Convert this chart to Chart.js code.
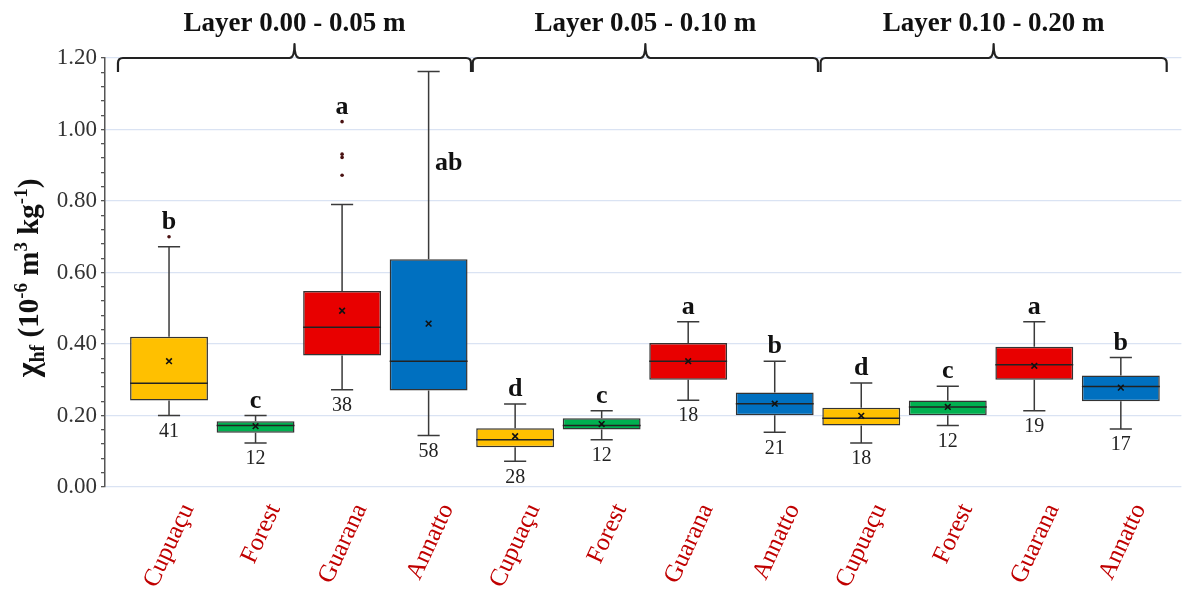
<!DOCTYPE html>
<html>
<head>
<meta charset="utf-8">
<title>Magnetic susceptibility by land use and soil layer</title>
<script src="https://cdn.jsdelivr.net/npm/chart.js@4.4.1/dist/chart.umd.min.js"></script>
<style>
  html, body { margin: 0; padding: 0; background: #fff; overflow: hidden; }
  canvas { display: block; }
</style>
</head>
<body>
<canvas id="boxChart" width="1187" height="590"></canvas>
<script>
// data (three layers x four land uses)
var categories = ["Cupuaçu", "Forest", "Guarana", "Annatto",
                  "Cupuaçu", "Forest", "Guarana", "Annatto",
                  "Cupuaçu", "Forest", "Guarana", "Annatto"];
var layers = ["Layer 0.00 - 0.05 m", "Layer 0.05 - 0.10 m", "Layer 0.10 - 0.20 m"];
var whiskerLow  = [0.200, 0.123, 0.272, 0.144, 0.072, 0.132, 0.243, 0.153, 0.123, 0.172, 0.213, 0.162];
var q1          = [0.242, 0.152, 0.368, 0.270, 0.111, 0.161, 0.300, 0.201, 0.172, 0.201, 0.300, 0.240];
var median      = [0.290, 0.172, 0.447, 0.352, 0.132, 0.172, 0.352, 0.233, 0.192, 0.224, 0.342, 0.281];
var q3          = [0.420, 0.184, 0.548, 0.637, 0.164, 0.192, 0.403, 0.264, 0.222, 0.242, 0.392, 0.312];
var whiskerHigh = [0.672, 0.200, 0.790, 1.162, 0.232, 0.213, 0.462, 0.352, 0.291, 0.282, 0.462, 0.362];
var means       = [0.352, 0.170, 0.493, 0.457, 0.142, 0.176, 0.352, 0.233, 0.199, 0.224, 0.339, 0.278];
var outliers    = [[0.70], [], [1.022, 0.931, 0.922, 0.872], [], [], [], [], [], [], [], [], []];
var counts  = [41, 12, 38, 58, 28, 12, 18, 21, 18, 12, 19, 17];
var letters = ["b", "c", "a", "ab", "d", "c", "a", "b", "d", "c", "a", "b"];
var yTicks  = [0, 0.2, 0.4, 0.6, 0.8, 1.0, 1.2];

var colorOf = { "Cupuaçu": "#FFC000", "Forest": "#00B050", "Guarana": "#E80000", "Annatto": "#0070C0" };
var serif = "'Liberation Serif', 'Times New Roman', serif";

var boxes = categories.map(function (c, i) { return { x: i, y: [q1[i], q3[i]] }; });
var meanPts = means.map(function (m, i) { return { x: i, y: m }; });
var outPts = [];
outliers.forEach(function (list, i) {
  list.forEach(function (v) { outPts.push({ x: i, y: v }); });
});

function isMajor(v) {
  return Math.round(v * 100) % 20 === 0;
}

// whiskers, medians, letters, counts, braces and the axis title
var boxParts = {
  id: "boxParts",
  beforeDatasetsDraw: function (chart) {
    var x = chart.scales.x, y = chart.scales.y, ctx = chart.ctx;
    var cap = (x.getPixelForValue(1) - x.getPixelForValue(0)) * 0.128;
    ctx.save();
    ctx.strokeStyle = "#3a3a3a";
    ctx.lineWidth = 1.5;
    for (var i = 0; i < categories.length; i++) {
      var cx = x.getPixelForValue(i);
      var lo = y.getPixelForValue(whiskerLow[i]), hi = y.getPixelForValue(whiskerHigh[i]);
      ctx.beginPath();
      ctx.moveTo(cx, lo); ctx.lineTo(cx, y.getPixelForValue(q1[i]));
      ctx.moveTo(cx, y.getPixelForValue(q3[i])); ctx.lineTo(cx, hi);
      ctx.moveTo(cx - cap, lo); ctx.lineTo(cx + cap, lo);
      ctx.moveTo(cx - cap, hi); ctx.lineTo(cx + cap, hi);
      ctx.stroke();
    }
    ctx.restore();
  },
  afterDatasetDraw: function (chart, args) {
    if (args.meta.type !== "bar") return;
    var y = chart.scales.y, ctx = chart.ctx;
    ctx.save();
    ctx.strokeStyle = "#222";
    ctx.lineWidth = 1.5;
    args.meta.data.forEach(function (bar, i) {
      var p = bar.getProps(["x", "width"], true);
      var my = y.getPixelForValue(median[i]);
      ctx.beginPath();
      ctx.moveTo(p.x - p.width / 2, my);
      ctx.lineTo(p.x + p.width / 2, my);
      ctx.stroke();
    });
    ctx.restore();
  },
  afterDraw: function (chart) {
    var x = chart.scales.x, y = chart.scales.y, ctx = chart.ctx;
    ctx.save();

    // significance letters
    ctx.fillStyle = "#111";
    ctx.font = "bold 26px " + serif;
    ctx.textAlign = "center";
    for (var i = 0; i < categories.length; i++) {
      var cx = x.getPixelForValue(i);
      if (whiskerHigh[i] > 1.1) {
        // long whisker: letter sits beside it
        ctx.textBaseline = "middle";
        ctx.fillText(letters[i], cx + 20, y.getPixelForValue(0.905));
      } else {
        var top = Math.max.apply(null, [whiskerHigh[i]].concat(outliers[i]));
        ctx.textBaseline = "alphabetic";
        ctx.fillText(letters[i], cx, y.getPixelForValue(top) - 8);
      }
    }

    // sample counts
    ctx.font = "20px " + serif;
    ctx.fillStyle = "#222";
    ctx.textBaseline = "middle";
    for (var j = 0; j < categories.length; j++) {
      ctx.fillText(String(counts[j]), x.getPixelForValue(j), y.getPixelForValue(whiskerLow[j]) + 16);
    }

    // layer braces
    var spans = [[-0.59, 3.49], [3.51, 7.5], [7.53, 11.53]];
    var yl = y.getPixelForValue(1.2);
    ctx.strokeStyle = "#222";
    ctx.lineWidth = 2.2;
    ctx.lineJoin = "round";
    spans.forEach(function (s, k) {
      var x0 = x.getPixelForValue(s[0]), x1 = x.getPixelForValue(s[1]);
      var xm = (x0 + x1) / 2;
      ctx.beginPath();
      ctx.moveTo(x0, yl + 14);
      ctx.lineTo(x0, yl + 5);
      ctx.quadraticCurveTo(x0, yl, x0 + 5, yl);
      ctx.lineTo(xm - 5, yl);
      ctx.quadraticCurveTo(xm, yl, xm, yl - 14);
      ctx.quadraticCurveTo(xm, yl, xm + 5, yl);
      ctx.lineTo(x1 - 5, yl);
      ctx.quadraticCurveTo(x1, yl, x1, yl + 5);
      ctx.lineTo(x1, yl + 14);
      ctx.stroke();

      ctx.fillStyle = "#111";
      ctx.font = "bold 27px " + serif;
      ctx.textBaseline = "middle";
      ctx.fillText(layers[k], xm, 24);
    });

    // y axis title with sub/superscripts
    var parts = [
      { t: "\u03c7", s: 32, dy: 0 },
      { t: "hf", s: 20, dy: 6 },
      { t: " (10", s: 29, dy: 0 },
      { t: "-6", s: 19, dy: -11 },
      { t: " m", s: 29, dy: 0 },
      { t: "3", s: 19, dy: -11 },
      { t: " kg", s: 29, dy: 0 },
      { t: "-1", s: 19, dy: -11 },
      { t: ")", s: 29, dy: 0 }
    ];
    var total = 0;
    parts.forEach(function (p) {
      ctx.font = "bold " + p.s + "px " + serif;
      p.w = ctx.measureText(p.t).width;
      total += p.w;
    });
    ctx.translate(38, 278);
    ctx.rotate(-Math.PI / 2);
    ctx.textAlign = "left";
    ctx.textBaseline = "alphabetic";
    ctx.fillStyle = "#111";
    var px = -total / 2;
    parts.forEach(function (p) {
      ctx.font = "bold " + p.s + "px " + serif;
      ctx.fillText(p.t, px, p.dy);
      px += p.w;
    });
    ctx.restore();
  }
};

new Chart("boxChart", {
  type: "bar",
  data: {
    datasets: [
      {
        type: "scatter",
        data: meanPts,
        order: 0,
        pointStyle: "crossRot",
        radius: 4,
        borderWidth: 1.6,
        borderColor: "#111",
        backgroundColor: "#111"
      },
      {
        type: "scatter",
        data: outPts,
        order: 1,
        pointStyle: "circle",
        radius: 1.8,
        borderWidth: 0,
        backgroundColor: "#4a1212"
      },
      {
        type: "bar",
        data: boxes,
        order: 2,
        backgroundColor: categories.map(function (c) { return colorOf[c]; }),
        borderColor: "#333",
        borderWidth: 1.5,
        borderSkipped: false,
        barPercentage: 0.9,
        categoryPercentage: 1.0
      }
    ]
  },
  options: {
    responsive: false,
    animation: false,
    layout: { padding: { top: 58, left: 0, right: 0, bottom: 0 } },
    plugins: { legend: { display: false }, tooltip: { enabled: false } },
    scales: {
      x: {
        type: "linear",
        offset: false,
        min: -0.74,
        max: 11.70,
        grid: { display: false, offset: false },
        border: { display: false },
        afterBuildTicks: function (axis) {
          axis.ticks = categories.map(function (c, i) { return { value: i }; });
        },
        afterFit: function (axis) {
          axis.height = 103;
          axis.paddingLeft = 0;
          axis.paddingRight = 0;
        },
        ticks: {
          autoSkip: false,
          minRotation: 65,
          maxRotation: 65,
          padding: 4,
          labelOffset: 19,
          color: "#C00000",
          font: { family: serif, size: 25 },
          callback: function (v) { return categories[v]; }
        }
      },
      y: {
        min: 0,
        max: 1.2,
        afterFit: function (axis) { axis.width = 105; },
        border: { display: true, color: "#555", width: 1.5 },
        grid: {
          color: function (c) { return c.tick && isMajor(c.tick.value) ? "#dae3f3" : "rgba(0,0,0,0)"; },
          lineWidth: 1.3,
          tickColor: "#555",
          tickLength: 4
        },
        ticks: {
          stepSize: 0.04,
          autoSkip: false,
          padding: 4,
          color: "#333",
          font: { family: serif, size: 23 },
          callback: function (v) {
            var hit = yTicks.filter(function (t) { return Math.abs(t - v) < 1e-6; });
            return hit.length ? hit[0].toFixed(2) : "";
          }
        }
      }
    }
  },
  plugins: [boxParts]
});
</script>
</body>
</html>
